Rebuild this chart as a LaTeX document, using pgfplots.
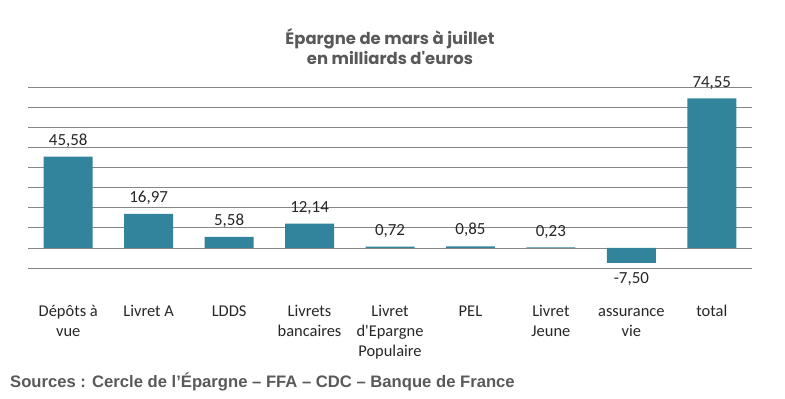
\documentclass[border=0pt]{standalone}
\usepackage{pgfplots}
\usepackage{pgfplotstable}
\pgfplotsset{compat=1.18}
\usepackage{fontspec}
\setmainfont{Carlito}
\newfontfamily\lblfont{Carlito}
\newfontfamily\titlefont{Poppins}
\newfontfamily\srcfont{Liberation Sans}
\definecolor{barc}{RGB}{49,132,155}
\definecolor{gridc}{RGB}{134,134,134}
\definecolor{titc}{RGB}{89,89,89}
\pgfplotstableread{
x y
0 45.58
1 16.97
2 5.58
3 12.14
4 0.72
5 0.85
6 0.23
7 -7.50
8 74.55
}\datatab
\begin{document}
\begin{tikzpicture}[x=1bp,y=1bp]
\useasboundingbox (0,0) rectangle (785,-398);
\begin{axis}[
  at={(28bp,-268bp)}, anchor=south west,
  scale only axis, width=724bp, height=180.5bp,
  xmin=-0.5, xmax=8.5, ymin=-10, ymax=80,
  ytick={-10,0,...,80}, yticklabels={},
  ymajorgrids, grid style={gridc, line width=0.9bp},
  axis line style={draw=none},
  major tick length=0,
  xtick={0,...,8},
  xticklabels={{\strut Dépôts à\\vue},{\strut Livret A},{\strut LDDS},{\strut Livrets\\bancaires},{\strut Livret\\d'Epargne\\Populaire},{\strut PEL},{\strut Livret\\Jeune},{\strut assurance\\vie},{\strut total}},
  xticklabel style={align=center, anchor=north, yshift=-31bp, font=\lblfont\fontsize{16.5}{20}\selectfont, text=black!85},
  ybar, bar width=49bp, bar shift=0pt,
  point meta=y,
  nodes near coords={\pgfmathprintnumber[fixed,fixed zerofill,precision=2,use comma,assume math mode=true]{\pgfplotspointmeta}},
  nodes near coords style={font=\lblfont\fontsize{17}{20}\selectfont, text=black!85, inner sep=9bp},
  clip=false,
]
\addplot[fill=barc, draw=none] table[x=x, y=y] {\datatab};
\end{axis}
\node[font=\titlefont\bfseries\fontsize{16.5}{20}\selectfont, text=titc, align=center] at (390,-47) {Épargne de mars à juillet\\en milliards d'euros};
\node[font=\srcfont\bfseries\fontsize{16.7}{20}\selectfont, text=titc, anchor=base west, inner sep=0] at (10,-387) {Sources : Cercle de l’Épargne – FFA – CDC – Banque de France};
\end{tikzpicture}
\end{document}
